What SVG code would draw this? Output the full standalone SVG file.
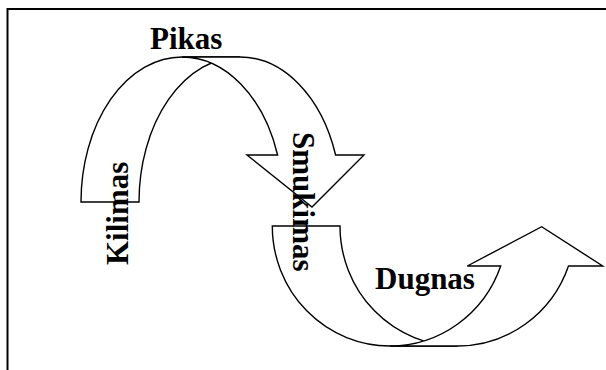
<svg xmlns="http://www.w3.org/2000/svg" width="606" height="370" viewBox="0 0 606 370">
<style>
.band{fill:#fff;stroke:#000;stroke-width:1.4;stroke-linejoin:miter}
.lbl{font-family:"Liberation Serif","Times New Roman",serif;font-weight:bold;font-size:31px;fill:#000}
</style>
<rect x="0" y="0" width="606" height="370" fill="#fff"/>
<rect x="7.5" y="9" width="800" height="500" fill="none" stroke="#000" stroke-width="2"/>
<g id="connectors">
<g id="arrow-top">
<path class="band" d="M81,202 A101 145 0 0 1 182,57 L240,57 A101 145 0 0 0 139,202 Z"/>
<path class="band" d="M182,57 L240,57 A101 145 0 0 1 335.6,155 L364,155 L312,207 L247,155 L277.6,155 A101 145 0 0 0 182,57 Z"/>
</g>
<g id="arrow-bottom">
<path class="band" d="M272.3,226 A117.6 120 0 0 0 389.9,346 L457.6,346 A117.6 120 0 0 1 340,226 Z"/>
<path class="band" d="M389.9,346 L457.6,346 A117.6 120 0 0 0 568.5,266 L602.7,266 L541.7,226.7 L467.3,266 L500.7,266 A117.6 120 0 0 1 389.9,346 Z"/>
</g>
</g>
<g id="node-pikas"><text class="lbl" x="150" y="49">Pikas</text></g>
<g id="node-kilimas"><text class="lbl" transform="translate(128,265) rotate(-90)">Kilimas</text></g>
<g id="node-smukimas"><text class="lbl" transform="translate(293,132) rotate(90)">Smukimas</text></g>
<g id="node-dugnas"><text class="lbl" x="375" y="289">Dugnas</text></g>
</svg>
